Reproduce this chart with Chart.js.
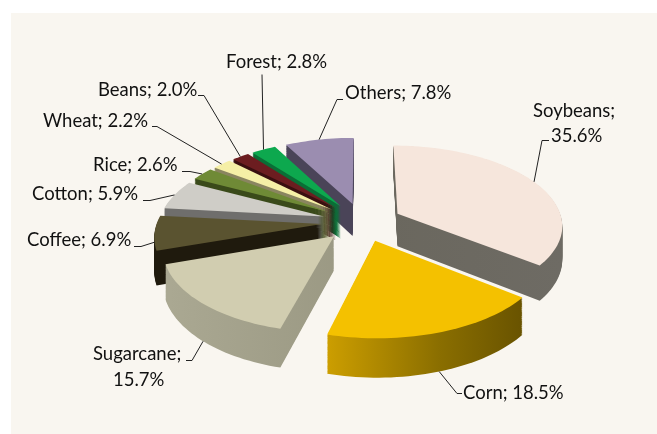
<!DOCTYPE html>
<html>
<head>
<meta charset="utf-8">
<title>Crop share</title>
<script src="https://cdn.jsdelivr.net/npm/chart.js@4/dist/chart.umd.min.js"></script>
<style>
    html, body { margin: 0; padding: 0; background: #fff; overflow: hidden; }
    canvas { display: block; }
</style>
</head>
<body>
<canvas id="cropChart" width="657" height="434"></canvas>
<script>
const categories = ["Soybeans", "Corn", "Sugarcane", "Coffee", "Cotton", "Rice", "Wheat", "Beans", "Forest", "Others"];
const shares = [35.6, 18.5, 15.7, 6.9, 5.9, 2.6, 2.2, 2.0, 2.8, 7.8];

const topColors = ["#f6e6dc", "#f4c100", "#d1cdb0", "#5a5330", "#cfcdc7", "#6f8a36", "#f5efa6", "#6c1d20", "#0da84e", "#9b8db0"];
const sideColors = [
    ["#676459", "#6e6b64"], ["#cc9e00", "#655000"], ["#aaa892", "#8d8b76"], ["#1f1a0d", "#1f1a0d"], ["#6f6e6c", "#6f6e6c"],
    ["#3a4a1a", "#3a4a1a"], ["#8a8560", "#8a8560"], ["#3a0f10", "#3a0f10"], ["#0a6e36", "#0a6e36"], ["#4a4458", "#4a4458"]
];

// label text blocks: left edge, middle y, one entry per line
const labelBlocks = [
    [[533, 111, "Soybeans;"], [551, 136, "35.6%"]],
    [[463, 393, "Corn; 18.5%"]],
    [[93, 354, "Sugarcane;"], [113, 380, "15.7%"]],
    [[27, 240, "Coffee; 6.9%"]],
    [[32, 194, "Cotton; 5.9%"]],
    [[93, 165, "Rice; 2.6%"]],
    [[43, 121, "Wheat; 2.2%"]],
    [[98, 90, "Beans; 2.0%"]],
    [[226, 62, "Forest; 2.8%"]],
    [[345, 93, "Others; 7.8%"]]
];
// start of each leader line, next to its label
const leaderStarts = [
    [[549, 140], [542, 140]],
    [[462, 393], [457, 393]],
    [[186, 360], [192, 360]],
    [[134, 246], [141, 246]],
    [[143, 200], [150, 200]],
    [[182, 171], [190, 171]],
    [[152, 126], [157, 126]],
    [[198, 95], [204, 95]],
    [[262, 74]],
    [[343, 99], [337, 99]]
];

const squash = 0.48;
const focal = 1250;
const sideHeight = 33;

// ground plane -> screen, nearer the viewer means bigger
function project(arc, gx, gy, drop) {
    const p = 1 / (1 - gy / focal);
    return {
        x: arc.x + gx * p,
        y: arc.y + gy * squash * p + drop * p
    };
}

function sliceGeometry(el) {
    const arc = el.getProps(["x", "y", "startAngle", "endAngle", "outerRadius"], true);
    const mid = (arc.startAngle + arc.endAngle) / 2;
    arc.mid = mid;
    arc.ox = Math.cos(mid) * el.options.offset;
    arc.oy = Math.sin(mid) * el.options.offset;
    return arc;
}

function traceSlice(ctx, arc, drop) {
    const steps = Math.max(4, Math.ceil((arc.endAngle - arc.startAngle) / 0.03));
    const apex = project(arc, arc.ox, arc.oy, drop);
    ctx.beginPath();
    ctx.moveTo(apex.x, apex.y);
    for (let i = 0; i <= steps; i++) {
        const a = arc.startAngle + (arc.endAngle - arc.startAngle) * i / steps;
        const pt = project(arc, arc.ox + Math.cos(a) * arc.outerRadius, arc.oy + Math.sin(a) * arc.outerRadius, drop);
        ctx.lineTo(pt.x, pt.y);
    }
    ctx.closePath();
}

const pie3d = {
    id: "pie3d",
    beforeDraw(chart) {
        const ctx = chart.ctx;
        ctx.save();
        ctx.fillStyle = "#f9f6f0";
        ctx.fillRect(11, 13, chart.width - 11, chart.height - 13);
        ctx.restore();
    },
    beforeDatasetsDraw(chart) {
        const ctx = chart.ctx;
        const dataset = chart.data.datasets[0];
        const slices = chart.getDatasetMeta(0).data.map(function(el, i) {
            return { arc: sliceGeometry(el), index: i };
        });
        // back slices first, the front ones paint over them
        slices.sort(function(a, b) { return a.arc.oy - b.arc.oy; });

        slices.forEach(function(s) {
            const r = s.arc.outerRadius;
            const grad = ctx.createLinearGradient(s.arc.x + s.arc.ox - r, 0, s.arc.x + s.arc.ox + r, 0);
            grad.addColorStop(0, dataset.sideColor[s.index][0]);
            grad.addColorStop(1, dataset.sideColor[s.index][1]);
            if (s.index === 1) {
                // corn wall only spans the lower part of the circle
                const g = ctx.createLinearGradient(s.arc.x - 35, 0, s.arc.x + 170, 0);
                g.addColorStop(0, dataset.sideColor[1][0]);
                g.addColorStop(0.55, "#8a6e00");
                g.addColorStop(1, dataset.sideColor[1][1]);
                ctx.fillStyle = g;
            } else {
                ctx.fillStyle = grad;
            }
            for (let d = sideHeight; d > 0; d--) {
                traceSlice(ctx, s.arc, d);
                ctx.fill();
            }
            traceSlice(ctx, s.arc, 0);
            ctx.fillStyle = dataset.backgroundColor[s.index];
            ctx.fill();
        });
        return false;
    },
    // returning false above also skips afterDatasetsDraw, so labels go here
    afterDraw(chart) {
        const ctx = chart.ctx;
        ctx.save();
        ctx.strokeStyle = "#222";
        ctx.lineWidth = 1;
        ctx.lineJoin = "round";
        chart.getDatasetMeta(0).data.forEach(function(el, i) {
            const arc = sliceGeometry(el);
            // front slices get their line on the bottom of the wall
            const drop = sideHeight * Math.max(0, Math.min(1, Math.sin(arc.mid) * 2.5));
            const end = project(arc, arc.ox + Math.cos(arc.mid) * arc.outerRadius, arc.oy + Math.sin(arc.mid) * arc.outerRadius, drop);
            ctx.beginPath();
            leaderStarts[i].forEach(function(pt, j) {
                if (j === 0) ctx.moveTo(pt[0], pt[1] + 0.5);
                else ctx.lineTo(pt[0], pt[1] + 0.5);
            });
            ctx.lineTo(end.x, end.y);
            ctx.stroke();
        });
        ctx.fillStyle = "#111";
        ctx.font = "18.5px Lato, 'Open Sans', sans-serif";
        ctx.textBaseline = "middle";
        ctx.textAlign = "left";
        labelBlocks.forEach(function(block) {
            block.forEach(function(line) {
                ctx.fillText(line[2], line[0], line[1]);
            });
        });
        ctx.restore();
    }
};

new Chart(document.getElementById("cropChart"), {
    type: "pie",
    data: {
        labels: categories,
        datasets: [{
            data: shares,
            backgroundColor: topColors,
            sideColor: sideColors,
            borderWidth: 0,
            offset: 40
        }]
    },
    options: {
        responsive: false,
        animation: false,
        radius: 165,
        layout: { padding: { left: 67, top: 10 } },
        plugins: {
            legend: { display: false },
            tooltip: { enabled: false }
        }
    },
    plugins: [pie3d]
});
</script>
</body>
</html>
